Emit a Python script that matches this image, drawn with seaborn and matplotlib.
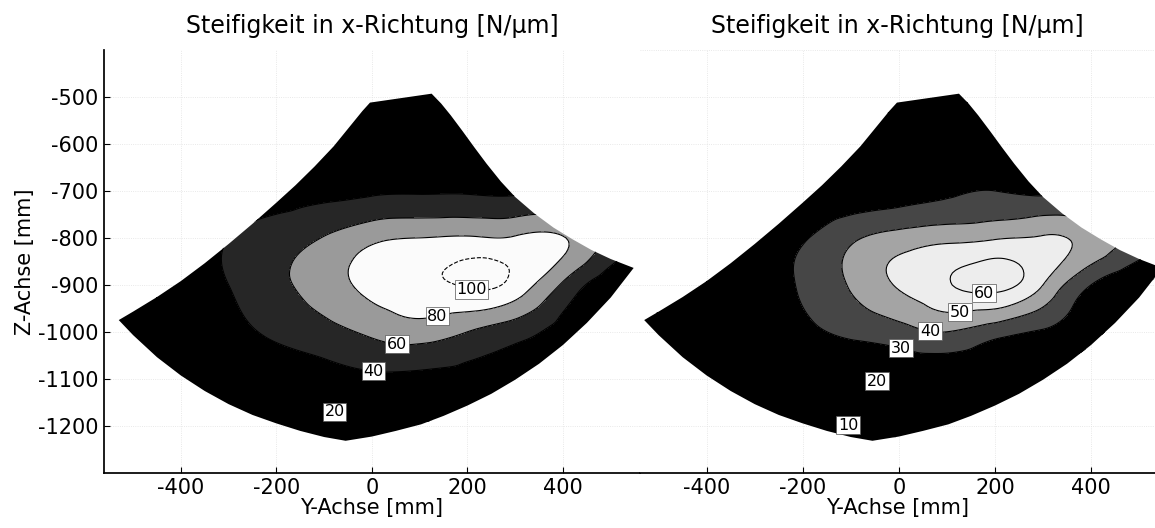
import numpy as np
import matplotlib
matplotlib.use("Agg")
import matplotlib.pyplot as plt
import matplotlib.tri as mtri
from matplotlib.path import Path
from matplotlib.patches import PathPatch
import seaborn as sns

sns.set_theme(style="ticks")
plt.rcParams["font.family"] = ["DejaVu Sans"]
plt.rcParams["axes.unicode_minus"] = False
for k in ("text.color", "axes.labelcolor", "xtick.color", "ytick.color", "axes.edgecolor"):
    plt.rcParams[k] = "black"

# Stuetzstellen des Rasters [mm]
y_achse = np.arange(-600, 601, 100)
z_achse = np.arange(-400, -1301, -100)

# Steifigkeit [N/um], Zeilen = Z (-400 ... -1300), Spalten = Y (-600 ... 600)
steif_links = np.array([
    [8, 10, 12, 14, 16, 18, 20, 21, 21, 20, 18, 15, 12],
    [10, 12, 14, 17, 20, 22, 24, 25, 25, 24, 22, 18, 14],
    [12, 15, 18, 21, 24, 27, 30, 31, 31, 30, 27, 22, 17],
    [13, 17, 22, 27, 31, 34, 37, 38, 38, 37, 35, 28, 21],
    [12, 18, 28, 40, 50, 61, 75, 80, 82, 82, 81, 52, 35],
    [8, 15, 27, 40, 55, 70, 86, 95, 102, 93, 57, 28, 18],
    [6, 13, 24, 33, 44, 53, 64, 70, 60, 48, 34, 24, 16],
    [5, 10, 15, 20, 26, 31, 36, 35, 33, 28, 22, 16, 11],
    [4, 7, 10, 12, 14, 16, 18, 19, 18, 15, 12, 9, 7],
    [3, 5, 7, 8, 9, 10, 11, 11, 10, 9, 7, 5, 4],
])

steif_rechts = np.array([
    [6, 8, 10, 11, 12, 13, 14, 14, 14, 13, 12, 10, 8],
    [7, 10, 12, 14, 16, 17, 18, 19, 19, 18, 16, 13, 10],
    [8, 11, 14, 17, 19, 21, 23, 24, 24, 23, 21, 17, 13],
    [8, 12, 16, 19, 22, 23, 25, 28, 30, 28, 25, 20, 15],
    [5, 10, 17, 24, 29, 38, 44, 47, 49, 51, 46, 35, 25],
    [5, 12, 20, 26, 31, 41, 51, 59, 63, 50, 30, 20, 12],
    [3, 8, 14, 20, 27, 32, 36, 40, 34, 29, 22, 15, 9],
    [2, 5, 9, 13, 17, 20, 21, 22, 20, 17, 13, 9, 5],
    [1, 3, 5, 7, 9, 10, 12, 13, 12, 10, 7, 4, 2],
    [0, 1, 2, 3, 4, 5, 5, 6, 5, 4, 3, 2, 1],
])

# Rand des Arbeitsraums [mm]
rand_y = [-4, 125, 145, 165, 190, 215, 240, 270, 300, 340, 380, 420, 460, 500,
          548, 500, 450, 400, 350, 300, 250, 200, 150, 103, 50, 0, -55,
          -100, -150, -200, -250, -300, -350, -400, -450, -500, -530,
          -500, -450, -400, -350, -300, -250, -200, -160, -120, -80, -40, -20]
rand_z = [-512, -493, -514, -539, -573, -608, -642, -680, -713, -748, -778,
          -803, -826, -845, -864, -927, -981, -1028, -1068, -1102, -1132,
          -1157, -1179, -1197, -1211, -1223, -1232, -1224, -1211, -1195,
          -1177, -1154, -1126, -1093, -1054, -1007, -975, -957, -926, -892,
          -854, -813, -770, -725, -688, -648, -605, -555, -530]

stufen_links = [0, 20, 40, 60, 80, 100, 130]
grau_links = ["black", "black", "#262626", "#9a9a9a", "#fbfbfb", "#fbfbfb"]
linien_links = [20, 40, 60, 80, 100]
stil_links = ["solid", "solid", "solid", "solid", "dashed"]
labels_links = [(213, -887), (136, -962), (54, -1014), (4, -1077), (-77, -1166)]

stufen_rechts = [0, 10, 20, 30, 40, 50, 60, 80]
grau_rechts = ["black", "black", "black", "#464646", "#a4a4a4", "#ededed", "#ededed"]
linien_rechts = [10, 20, 30, 40, 50, 60]
stil_rechts = ["solid"] * 6
labels_rechts = [(177, -894), (127, -955), (65, -996), (2, -1046), (-46, -1108), (-105, -1194)]

titel = "Steifigkeit in x-Richtung [N/µm]"


def panel(ax, werte, stufen, farben, linien, stile, label_pos):
    Y, Z = np.meshgrid(y_achse, z_achse)
    w = werte.ravel().astype(float)
    tri = mtri.Triangulation(Y.ravel(), Z.ravel())
    interp = mtri.CubicTriInterpolator(tri, w, kind="min_E")
    tri_f, w_f = mtri.UniformTriRefiner(tri).refine_field(w, triinterpolator=interp, subdiv=4)

    rand = PathPatch(Path(np.column_stack([rand_y, rand_z])), transform=ax.transData,
                     facecolor="none", edgecolor="none")
    ax.add_patch(rand)

    cf = ax.tricontourf(tri_f, w_f, levels=stufen, colors=farben)
    cf.set_clip_path(rand)
    cl = ax.tricontour(tri_f, w_f, levels=linien, colors="black",
                       linewidths=0.8, linestyles=stile)
    cl.set_clip_path(rand)
    txt = ax.clabel(cl, manual=label_pos, inline=False, fontsize=11.5, fmt="%d")
    for t in txt:
        t.set_rotation(0)
        t.set_bbox(dict(facecolor="white", edgecolor="#555555", linewidth=0.5, pad=1.2))


fig = plt.figure(figsize=(11.55, 5.28), dpi=100)
ax1 = fig.add_axes([0.090, 0.1047, 0.464, 0.8006])
ax2 = fig.add_axes([0.554, 0.1047, 0.446, 0.8006])

ax1.set_xlim(-561, 561)
ax2.set_xlim(-539, 533)
for ax in (ax1, ax2):
    ax.set_ylim(-1300, -400)
    ax.set_xticks([-400, -200, 0, 200, 400])
    ax.grid(True, color="#e2e2e2", linestyle=":", linewidth=0.6)
    ax.tick_params(direction="in", length=4, width=0.8, labelsize=15, pad=4)
    ax.set_xlabel("Y-Achse [mm]", fontsize=15, labelpad=0)
    ax.set_title(titel, fontsize=17, pad=12)
    for s in ("top", "right"):
        ax.spines[s].set_visible(False)

ax1.set_yticks(np.arange(-1200, -499, 100))
ax1.set_ylabel("Z-Achse [mm]", fontsize=15, labelpad=2)
ax2.spines["left"].set_visible(False)
ax2.tick_params(left=False, labelleft=False)

panel(ax1, steif_links, stufen_links, grau_links, linien_links, stil_links, labels_links)
panel(ax2, steif_rechts, stufen_rechts, grau_rechts, linien_rechts, stil_rechts, labels_rechts)

fig.savefig("out.png", dpi=100)
